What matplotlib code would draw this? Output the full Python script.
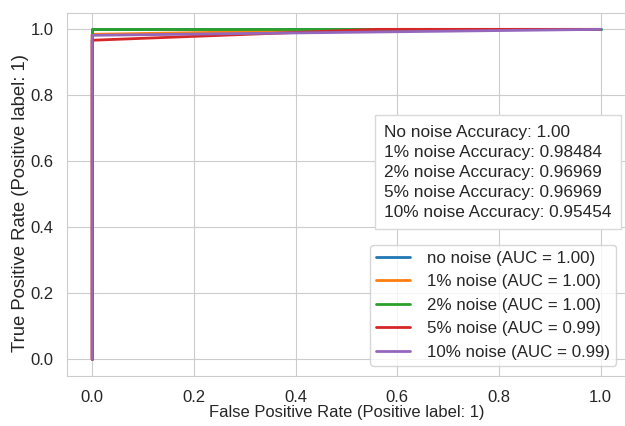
import numpy as np
import matplotlib
matplotlib.use("Agg")
import matplotlib.pyplot as plt
import seaborn as sns

sns.set_style("whitegrid")
plt.rcParams['font.family'] = ['Liberation Sans', 'DejaVu Sans']

labels = ["no noise", "1% noise", "2% noise", "5% noise", "10% noise"]
aucs = [1.00, 1.00, 1.00, 0.99, 0.99]
fpr = [
    [0.0, 0.0, 1.0],
    [0.0, 0.0, 0.6, 1.0],
    [0.0, 0.0, 1.0],
    [0.0, 0.0, 0.56, 1.0],
    [0.0, 0.0, 1.0],
]
tpr = [
    [0.0, 1.0, 1.0],
    [0.0, 0.985, 1.0, 1.0],
    [0.0, 1.0, 1.0],
    [0.0, 0.967, 1.0, 1.0],
    [0.0, 0.982, 1.0],
]
acc_names = ["No noise", "1% noise", "2% noise", "5% noise", "10% noise"]
acc_values = ["1.00", "0.98484", "0.96969", "0.96969", "0.95454"]

fig = plt.figure(figsize=(6.25, 4.26), dpi=100)
ax = fig.add_axes([0.1067, 0.1178, 0.895, 0.852])

for f, t, lab, a in zip(fpr, tpr, labels, aucs):
    ax.plot(f, t, lw=2, label=f"{lab} (AUC = {a:.2f})")

ax.set_xlim(-0.05, 1.05)
ax.set_ylim(-0.05, 1.05)
ax.set_xticks(np.arange(0, 1.01, 0.2))
ax.set_yticks(np.arange(0, 1.01, 0.2))
ax.tick_params(labelsize=12)
ax.tick_params(axis="x", pad=7)
ax.tick_params(axis="y", pad=6)
ax.set_xlabel("False Positive Rate (Positive label: 1)", fontsize=11.9, labelpad=0)
ax.set_ylabel("True Positive Rate (Positive label: 1)", fontsize=13.3)
ax.yaxis.set_label_coords(-0.067, 0.476)

leg = ax.legend(loc="lower right", fontsize=12.2, frameon=True, borderaxespad=0.6,
                handlelength=2.0, handletextpad=1.0, labelspacing=0.5, borderpad=0.35)
leg.get_frame().set_edgecolor("0.8")

txt = "\n".join(f"{n} Accuracy: {v}" for n, v in zip(acc_names, acc_values))
ax.text(0.568, 0.43, txt, transform=ax.transAxes, fontsize=12.4, va="bottom", ha="left",
        linespacing=1.42,
        bbox=dict(boxstyle="square,pad=0.55", facecolor="white", edgecolor="0.85"))

fig.savefig("out.png", dpi=100)
